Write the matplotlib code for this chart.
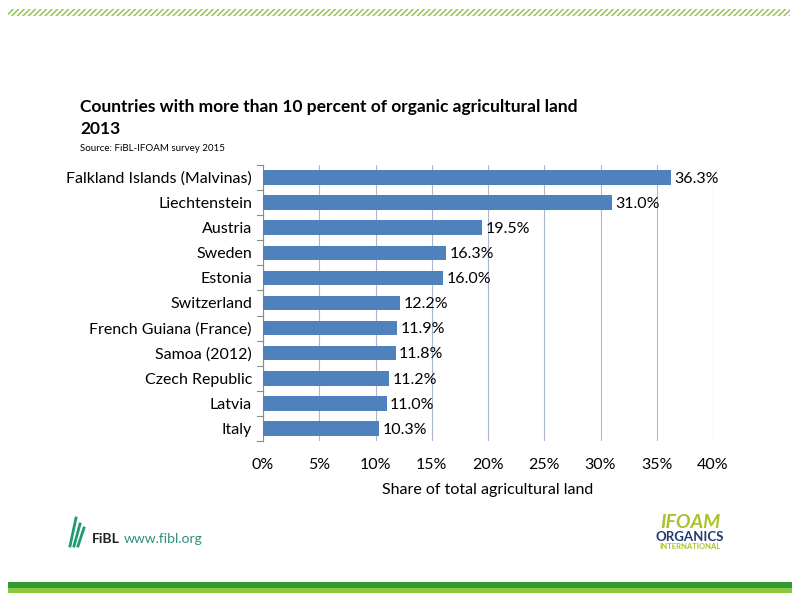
import matplotlib.pyplot as plt
import matplotlib.patches as mpatches
from matplotlib.ticker import FuncFormatter

countries = ["Falkland Islands (Malvinas)", "Liechtenstein", "Austria", "Sweden",
             "Estonia", "Switzerland", "French Guiana (France)", "Samoa (2012)",
             "Czech Republic", "Latvia", "Italy"]
shares = [36.3, 31.0, 19.5, 16.3, 16.0, 12.2, 11.9, 11.8, 11.2, 11.0, 10.3]
xticks = [0, 5, 10, 15, 20, 25, 30, 35, 40]

plt.rcParams['font.family'] = ['Lato', 'DejaVu Sans']

fig = plt.figure(figsize=(8, 6), dpi=100)
fig.patch.set_facecolor('white')

ax = fig.add_axes([263/800, 1-441/600, (713-263)/800, (441-165)/600])
y = list(range(len(countries)))
ax.barh(y, shares, height=0.58, color='#4F81BD', zorder=3)
ax.set_ylim(len(countries)-0.5, -0.5)
ax.set_xlim(0, 40)
ax.set_yticks(y)
ax.set_yticklabels(countries, fontsize=11.5)
ax.set_xticks(xticks)
ax.xaxis.set_major_formatter(FuncFormatter(lambda v, p: f"{v:.0f}%"))
ax.tick_params(axis='x', length=0, labelsize=11.5, pad=12)
ax.tick_params(axis='y', length=0, pad=8)
ax.grid(axis='x', color='#A9B8CF', linewidth=0.8, zorder=0)
for s in ['top', 'right', 'bottom']:
    ax.spines[s].set_visible(False)
ax.spines['left'].set_color('#8C8C8C')
ax.spines['left'].set_linewidth(0.8)
# category separator ticks
for b in range(len(countries)+1):
    ax.plot([-0.5, 0], [b-0.5, b-0.5], color='#8C8C8C', lw=0.8, clip_on=False)
for i, v in enumerate(shares):
    ax.text(v + 0.3, i + 0.05, f"{v:.1f}%", va='center', ha='left', fontsize=11.5, zorder=4)
ax.set_xlabel("Share of total agricultural land", fontsize=11.5, labelpad=8)

# titles
fig.text(80/800, 1-112/600, "Countries with more than 10 percent of organic agricultural land",
         fontsize=12.5, fontweight='bold', va='baseline')
fig.text(80/800, 1-134/600, "2013", fontsize=12.5, fontweight='bold', va='baseline')
fig.text(80/800, 1-151/600, "Source: FiBL-IFOAM survey 2015", fontsize=7, va='baseline')

# top hatched stripe
top = mpatches.Rectangle((8/800, 1-16/600), 782/800, 7/600, transform=fig.transFigure,
                         facecolor='white', edgecolor='#8DBF4A', hatch='//////', linewidth=0)
fig.patches.append(top)
# bottom bars
fig.patches.append(mpatches.Rectangle((8/800, 1-588/600), 784/800, 6/600, transform=fig.transFigure,
                                      facecolor='#339933', edgecolor='none'))
fig.patches.append(mpatches.Rectangle((8/800, 1-593/600), 784/800, 5/600, transform=fig.transFigure,
                                      facecolor='#8CC63F', edgecolor='none'))

# FiBL logo (approximated)
for dx, h in [(0, 28), (4, 22), (8, 18)]:
    fig.add_artist(plt.Line2D([(70+dx)/800, (76+dx)/800], [1-546/600, 1-(546-h)/600],
                              color='#1E9A6E', lw=2))
fig.text(92/800, 1-543/600, "FiBL", fontsize=10, fontweight='bold', color='#222222', va='baseline')
fig.text(124/800, 1-543/600, "www.fibl.org", fontsize=10, color='#2E8F7A', va='baseline')

# IFOAM logo (approximated)
fig.text(690/800, 1-528/600, "IFOAM", fontsize=14, fontweight='bold', style='italic',
         color='#A8C32B', ha='center', va='baseline')
fig.text(690/800, 1-541/600, "ORGANICS", fontsize=9.5, fontweight='bold', color='#1F3B6E',
         ha='center', va='baseline')
fig.text(690/800, 1-549/600, "INTERNATIONAL", fontsize=5.5, fontweight='bold', color='#A8C32B',
         ha='center', va='baseline')

fig.savefig('out.png', dpi=100)
